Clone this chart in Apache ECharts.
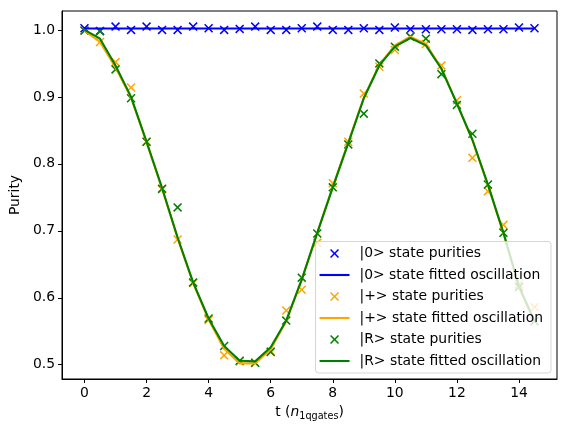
<!DOCTYPE html>
<html>
<head>
<meta charset="utf-8">
<script src="https://cdn.jsdelivr.net/npm/echarts@6/dist/echarts.min.js"></script>
<style>
  html, body { margin: 0; padding: 0; background: #fff; }
  #chart { width: 567px; height: 438px; }
</style>
</head>
<body>
<div id="chart"></div>
<script>
// gate counts (x axis)
var tValues = [0, 0.5, 1, 1.5, 2, 2.5, 3, 3.5, 4, 4.5, 5, 5.5, 6, 6.5, 7, 7.5,
               8, 8.5, 9, 9.5, 10, 10.5, 11, 11.5, 12, 12.5, 13, 13.5, 14, 14.5];

// measured purities
var zeroPur = [1.0025, 0.9985, 1.005, 1.0, 1.005, 1.0, 1.0, 1.005, 1.0025, 1.0,
               1.0015, 1.005, 1.0, 1.0, 1.0025, 1.005, 1.0, 1.0, 1.0025, 1.0,
               1.0036, 1.001, 1.001, 1.001, 1.001, 1.0, 1.001, 1.001, 1.0036, 1.0025];
var plusPur = [0.999, 0.982, 0.952, 0.914, 0.833, 0.762, 0.687, 0.622, 0.567, 0.514,
               0.505, 0.503, 0.520, 0.581, 0.612, 0.682, 0.771, 0.833, 0.905, 0.945,
               0.970, 0.990, 0.979, 0.947, 0.895, 0.809, 0.759, 0.709, 0.620, 0.586];
var rPur    = [0.999, 0.998, 0.941, 0.898, 0.833, 0.763, 0.735, 0.623, 0.569, 0.528,
               0.506, 0.503, 0.519, 0.566, 0.630, 0.696, 0.765, 0.829, 0.875, 0.950,
               0.975, 0.990, 0.987, 0.934, 0.888, 0.845, 0.769, 0.697, 0.616, 0.565];

// fitted oscillations
var zeroFit = [1.0022, 1.0022, 1.0022, 1.0022, 1.0022, 1.0022, 1.0022, 1.0022, 1.0022, 1.0022,
               1.0022, 1.0022, 1.0022, 1.0022, 1.0022, 1.0022, 1.0022, 1.0022, 1.0022, 1.0022,
               1.0022, 1.0022, 1.0022, 1.0022, 1.0022, 1.0022, 1.0022, 1.0022, 1.0022, 1.0022];
var plusFit = [0.999, 0.982, 0.944, 0.899, 0.832, 0.763, 0.689, 0.622, 0.567, 0.524,
               0.502, 0.502, 0.523, 0.565, 0.627, 0.697, 0.766, 0.832, 0.899, 0.948,
               0.977, 0.990, 0.979, 0.943, 0.890, 0.835, 0.768, 0.696, 0.616, 0.564];
var rFit    = [1.0, 0.987, 0.947, 0.900, 0.833, 0.764, 0.690, 0.623, 0.569, 0.528,
               0.506, 0.505, 0.526, 0.566, 0.627, 0.697, 0.765, 0.831, 0.898, 0.947,
               0.975, 0.988, 0.977, 0.942, 0.890, 0.836, 0.769, 0.697, 0.617, 0.565];

var xTicks = [0, 2, 4, 6, 8, 10, 12, 14];
var yTicks = [0.5, 0.6, 0.7, 0.8, 0.9, 1.0];

var names = ['|0> state purities', '|0> state fitted oscillation',
             '|+> state purities', '|+> state fitted oscillation',
             '|R> state purities', '|R> state fitted oscillation'];

var crossPath = 'path://M0,1.2L1.2,0L5,3.8L8.8,0L10,1.2L6.2,5L10,8.8L8.8,10L5,6.2L1.2,10L0,8.8L3.8,5Z';
var linePath = 'path://M0,0L30,0L30,2.1L0,2.1Z';

function pairs(ys) {
  return tValues.map(function (t, i) { return [t, ys[i]]; });
}

function marks(name, color, ys) {
  return {
    name: name, type: 'scatter', data: pairs(ys),
    symbol: crossPath, symbolSize: 9,
    itemStyle: { color: color, opacity: 1 }, silent: true
  };
}

function fit(name, color, ys) {
  return {
    name: name, type: 'line', data: pairs(ys),
    showSymbol: false, symbol: 'none',
    lineStyle: { color: color, width: 2.1 },
    itemStyle: { color: color }, silent: true
  };
}

var font = 'DejaVu Sans';
var fs = 13.9;
var chart = echarts.init(document.getElementById('chart'), null, { renderer: 'canvas' });

chart.setOption({
  animation: false,
  backgroundColor: '#fff',
  grid: {
    left: 61, top: 11, width: 496, height: 368,
    show: true, borderColor: '#000', borderWidth: 1, backgroundColor: 'transparent'
  },
  xAxis: {
    type: 'value', min: -0.725, max: 15.225,
    name: '{a|t (}{i|n}{s|1qgates}{a|)}',
    nameLocation: 'middle', nameGap: 24,
    nameTextStyle: {
      rich: {
        a: { fontFamily: font, fontSize: fs, color: '#000', lineHeight: 18 },
        i: { fontFamily: font, fontSize: fs, fontStyle: 'italic', color: '#000', lineHeight: 18 },
        s: { fontFamily: font, fontSize: 9.7, color: '#000', lineHeight: 18, verticalAlign: 'bottom', padding: [6, 0, 0, 0] }
      }
    },
    axisLine: { show: true, onZero: false, lineStyle: { color: '#000', width: 1 } },
    axisTick: { show: true, inside: false, length: 4, lineStyle: { color: '#000' }, customValues: xTicks },
    axisLabel: { customValues: xTicks, margin: 7, color: '#000', fontFamily: font, fontSize: fs },
    splitLine: { show: false }
  },
  yAxis: {
    type: 'value', min: 0.4787, max: 1.0283,
    name: 'Purity', nameLocation: 'middle', nameGap: 39, nameRotate: 90,
    nameTextStyle: { fontFamily: font, fontSize: fs, color: '#000' },
    axisLine: { show: true, onZero: false, lineStyle: { color: '#000', width: 1 } },
    axisTick: { show: true, inside: false, length: 4, lineStyle: { color: '#000' }, customValues: yTicks },
    axisLabel: {
      customValues: yTicks, margin: 7, color: '#000', fontFamily: font, fontSize: fs,
      formatter: function (v) { return v.toFixed(1); }
    },
    splitLine: { show: false }
  },
  legend: {
    orient: 'vertical', right: 16, bottom: 65,
    padding: [5, 8, 5, 4],
    backgroundColor: 'rgba(255,255,255,0.8)',
    borderColor: 'rgba(204,204,204,0.8)', borderWidth: 1, borderRadius: 3,
    itemWidth: 30, itemHeight: 9, itemGap: 7.5,
    selectedMode: false,
    textStyle: { fontFamily: font, fontSize: fs, color: '#000', lineHeight: 14, padding: [0, 0, 0, 5] },
    data: [
      { name: names[0], icon: crossPath, itemStyle: { opacity: 1 } },
      { name: names[1], icon: linePath },
      { name: names[2], icon: crossPath, itemStyle: { opacity: 1 } },
      { name: names[3], icon: linePath },
      { name: names[4], icon: crossPath, itemStyle: { opacity: 1 } },
      { name: names[5], icon: linePath }
    ]
  },
  series: [
    marks(names[0], '#0000ff', zeroPur),
    fit(names[1], '#0000ff', zeroFit),
    marks(names[2], '#ffa500', plusPur),
    fit(names[3], '#ffa500', plusFit),
    marks(names[4], '#008000', rPur),
    fit(names[5], '#008000', rFit)
  ]
});
</script>
</body>
</html>
